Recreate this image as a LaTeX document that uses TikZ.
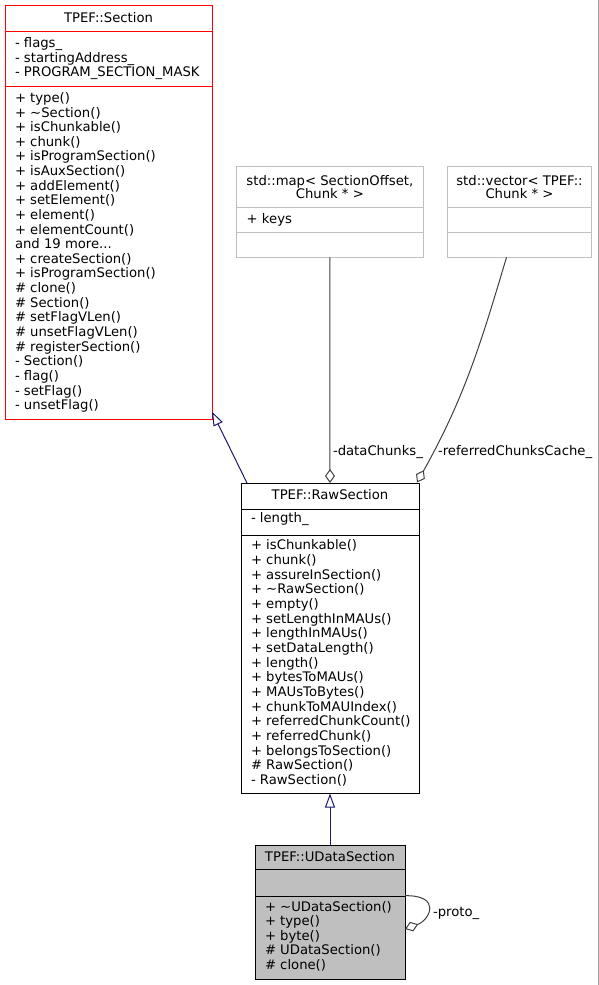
\documentclass[tikz,border=0pt]{standalone}
\usepackage{fontspec}
\setmainfont{DejaVu Sans}
\usetikzlibrary{arrows.meta}
\newdimen\px \px=0.75pt
\newcommand\mydots{...}
\definecolor{edgegray}{HTML}{404040}
\definecolor{inhblue}{HTML}{191970}
\definecolor{boxgray}{HTML}{BFBFBF}
\definecolor{framegray}{HTML}{A0A0A0}
\tikzset{
  cls/.style={draw, line width=0.75pt, inner sep=0pt, outer sep=0pt, anchor=north west},
  txt/.style={anchor=base west, inner sep=0pt, outer sep=0pt, font=\fontsize{9.9pt}{11pt}\selectfont},
  ttl/.style={anchor=base, inner sep=0pt, outer sep=0pt, font=\fontsize{9.9pt}{11pt}\selectfont},
  usearrow/.style={draw=edgegray, line width=0.75pt, -{Diamond[open, length=10.5pt, width=7.5pt]}},
  inharrow/.style={draw=inhblue, line width=0.75pt, -{Triangle[open, length=10.5pt, width=7.5pt]}},
  divider/.style={line width=0.75pt},
}
\begin{document}
\begin{tikzpicture}[x=\px, y=-\px]
\useasboundingbox (0,0) rectangle (599,985);
\draw[framegray, line width=0.75pt] (598.5,0) -- (598.5,985);

% ---------- TPEF::Section ----------
\node[cls, draw=red, minimum width=207\px, minimum height=414\px] (sec) at (5,5) {};
\draw[divider, red] (5,31) -- (212,31);
\draw[divider, red] (5,86) -- (212,86);
\node[ttl] (sect) at (108.5,22.7) {TPEF::Section};
\foreach [count=\i from 0] \t in {- flags\_, - startingAddress\_, - PROGRAM\_SECTION\_MASK}
  \node[txt] (seca\i) at (15, 42.7+14.6*\i+4.7) {\t};
\foreach [count=\i from 0] \t in {+ type(), + \textasciitilde Section(), + isChunkable(), + chunk(),
  + isProgramSection(), + isAuxSection(), + addElement(), + setElement(), + element(),
  + elementCount(), and 19 more\mydots, + createSection(), + isProgramSection(), \# clone(),
  \# Section(), \# setFlagVLen(), \# unsetFlagVLen(), \# registerSection(), - Section(),
  - flag(), - setFlag(), - unsetFlag()}
  \node[txt] (secm\i) at (15, 97.7+14.63*\i+4.7) {\t};

% ---------- std::map ----------
\node[cls, draw=boxgray, minimum width=186.3\px, minimum height=90.6\px] (map) at (236.7,166.7) {};
\draw[divider, boxgray] (236.7,207.3) -- (423,207.3);
\draw[divider, boxgray] (236.7,232) -- (423,232);
\node[ttl] (mapt1) at (329.85,180.5+4.7) {std::map< SectionOffset,};
\node[ttl] (mapt2) at (329.85,194+4.7) {Chunk * >};
\node[txt] (mapa0) at (246.7,219+4.7) {+ keys};

% ---------- std::vector ----------
\node[cls, draw=boxgray, minimum width=144.4\px, minimum height=90.6\px] (vec) at (447.3,166.7) {};
\draw[divider, boxgray] (447.3,207.3) -- (591.7,207.3);
\draw[divider, boxgray] (447.3,232) -- (591.7,232);
\node[ttl] (vect1) at (519.5,180.5+4.7) {std::vector< TPEF::};
\node[ttl] (vect2) at (519.5,194+4.7) {Chunk * >};

% ---------- TPEF::RawSection ----------
\node[cls, draw=black, minimum width=178\px, minimum height=310.5\px] (raw) at (241,483) {};
\draw[divider] (241,509) -- (419,509);
\draw[divider] (241,535.5) -- (419,535.5);
\node[ttl] (rawt) at (330,495+4.7) {TPEF::RawSection};
\node[txt] (rawa0) at (251,518+4.7) {- length\_};
\foreach [count=\i from 0] \t in {+ isChunkable(), + chunk(), + assureInSection(),
  + \textasciitilde RawSection(), + empty(), + setLengthInMAUs(), + lengthInMAUs(),
  + setDataLength(), + length(), + bytesToMAUs(), + MAUsToBytes(), + chunkToMAUIndex(),
  + referredChunkCount(), + referredChunk(), + belongsToSection(), \# RawSection(),
  - RawSection()}
  \node[txt] (rawm\i) at (251, 545+14.67*\i+4.7) {\t};

% ---------- TPEF::UDataSection ----------
\node[cls, draw=black, fill=boxgray, minimum width=150\px, minimum height=134\px] (udata) at (255,845) {};
\draw[divider] (255,869.5) -- (405,869.5);
\draw[divider] (255,896) -- (405,896);
\node[ttl] (udatat) at (330,857+4.7) {TPEF::UDataSection};
\foreach [count=\i from 0] \t in {+ \textasciitilde UDataSection(), + type(), + byte(),
  \# UDataSection(), \# clone()}
  \node[txt] (udatam\i) at (265, 906.7+14.4*\i+4.7) {\t};

% ---------- connectors ----------
\draw[inharrow] ([xshift=6\px]raw.north west) -- ([yshift=7.3\px]sec.south east);
\draw[inharrow] (udata.north) -- (raw.south);
\draw[usearrow] (map.south) -- (raw.north);
\node[txt] (lbldata) at (333,450.7+4.7) {-dataChunks\_};
\coordinate (refend) at ([xshift=-2\px,yshift=0.5\px]raw.north east);
\draw[usearrow] ([xshift=-13\px]vec.south) .. controls (481.2,342.3) and (464.6,397.5) .. (refend);
\node[txt] (lblref) at (438,450.7+4.7) {-referredChunksCache\_};
\draw[usearrow] ([yshift=16.3\px]udata.east) .. controls (442,895) and (430,920) .. ([yshift=-17\px]udata.east);
\node[txt] (lblproto) at (433,911.7+4.7) {-proto\_};
\end{tikzpicture}
\end{document}
